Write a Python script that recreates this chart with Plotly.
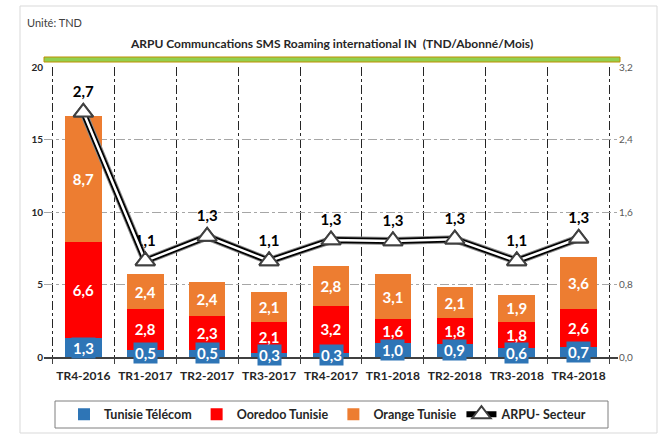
import plotly.graph_objects as go

categories = ["TR4-2016", "TR1-2017", "TR2-2017", "TR3-2017", "TR4-2017",
              "TR1-2018", "TR2-2018", "TR3-2018", "TR4-2018"]
tunisie_telecom = [1.3, 0.5, 0.5, 0.3, 0.3, 1.0, 0.9, 0.6, 0.7]
ooredoo = [6.6, 2.8, 2.3, 2.1, 3.2, 1.6, 1.8, 1.8, 2.6]
orange = [8.7, 2.4, 2.4, 2.1, 2.8, 3.1, 2.1, 1.9, 3.6]
arpu_secteur = [2.7, 1.06, 1.33, 1.06, 1.29, 1.28, 1.30, 1.06, 1.31]

BLUE = "#2E75B6"
RED = "#FF0000"
ORANGE = "#ED7D31"
FONT = "Lato"

fig = go.Figure()

fig.add_trace(go.Bar(x=categories, y=tunisie_telecom, name="Tunisie Télécom",
                     marker=dict(color=BLUE, line=dict(width=0)), textposition="none"))
fig.add_trace(go.Bar(x=categories, y=ooredoo, name="Ooredoo Tunisie",
                     marker=dict(color=RED, line=dict(width=0)),
                     texttemplate="%{y:.1f}", textposition="inside", insidetextanchor="middle",
                     textfont=dict(color="white", size=15, family=FONT, weight="bold"),
                     constraintext="none"))
fig.add_trace(go.Bar(x=categories, y=orange, name="Orange Tunisie",
                     marker=dict(color=ORANGE, line=dict(width=0)),
                     texttemplate="%{y:.1f}", textposition="inside", insidetextanchor="middle",
                     textfont=dict(color="white", size=15, family=FONT, weight="bold"),
                     constraintext="none"))

marker_style = dict(symbol="triangle-up", size=17, color="white",
                    line=dict(color="#404040", width=2))

# double line effect for ARPU
fig.add_trace(go.Scatter(x=categories, y=arpu_secteur, yaxis="y2", mode="lines",
                         line=dict(color="#8C8C8C", width=8), showlegend=False, hoverinfo="skip"))
fig.add_trace(go.Scatter(x=categories, y=arpu_secteur, yaxis="y2", mode="lines+markers+text",
                         name="ARPU- Secteur",
                         line=dict(color="black", width=6),
                         marker=marker_style,
                         texttemplate="%{y:.1f}", textposition="top center",
                         textfont=dict(color="black", size=15, family=FONT, weight="bold")))
fig.add_trace(go.Scatter(x=categories, y=arpu_secteur, yaxis="y2", mode="lines",
                         line=dict(color="white", width=2.5), showlegend=False, hoverinfo="skip"))
fig.add_trace(go.Scatter(x=categories, y=arpu_secteur, yaxis="y2", mode="markers",
                         marker=marker_style, showlegend=False, hoverinfo="skip"))

# blue labels with filled boxes
for c, v in zip(categories, tunisie_telecom):
    fig.add_annotation(x=c, y=v / 2, xref="x", yref="y",
                       text=f"{v:.1f}".replace(".", ","), showarrow=False,
                       bgcolor=BLUE, borderpad=1,
                       font=dict(color="white", size=15, family=FONT, weight="bold"))

W, H = 660, 434
L, R, T, B = 44, 42, 67, 77
pw, ph = W - L - R, H - T - B

def px(x):
    return (x - L) / pw

def py(y):
    return (H - B - y) / ph

shapes = [
    dict(type="rect", xref="paper", yref="paper", x0=px(20), x1=px(657), y0=py(433), y1=py(6),
         line=dict(color="#D9D9D9", width=1), fillcolor="rgba(0,0,0,0)", layer="below"),
    dict(type="rect", xref="paper", yref="paper", x0=px(44), x1=px(620), y0=py(62), y1=py(57),
         line=dict(color="#BF9000", width=1), fillcolor="#92D050"),
    dict(type="rect", xref="paper", yref="paper", x0=px(55), x1=px(608), y0=py(428), y1=py(401),
         line=dict(color="#7F7F7F", width=1), fillcolor="rgba(0,0,0,0)"),
]

fig.add_annotation(x=px(25), y=py(22), xref="paper", yref="paper", xanchor="left", yanchor="middle",
                   text="Unité: TND", showarrow=False,
                   font=dict(size=11, color="#404040", family=FONT))
fig.add_annotation(x=px(331), y=py(43), xref="paper", yref="paper", xanchor="center", yanchor="middle",
                   text="ARPU Communcations SMS Roaming international IN  (TND/Abonné/Mois)",
                   showarrow=False,
                   font=dict(size=12, color="#262626", family=FONT, weight="bold"))

fig.update_layout(
    width=W, height=H,
    margin=dict(l=L, r=R, t=T, b=B, autoexpand=False),
    barmode="stack", bargap=0.41,
    paper_bgcolor="white", plot_bgcolor="white",
    separators=",.",
    font=dict(family=FONT, color="#262626"),
    showlegend=True,
    legend=dict(orientation="h", x=px(64), xanchor="left", y=py(414.5), yanchor="middle",
                font=dict(size=12.5, family=FONT, color="#262626", weight="bold"),
                bgcolor="rgba(0,0,0,0)", borderwidth=0, traceorder="normal",
                itemwidth=30),
    shapes=shapes,
    xaxis=dict(showline=True, linecolor="#404040", linewidth=1.5, tickangle=0, automargin=False,
               ticks="outside", ticklen=5, tickcolor="#404040", tickson="boundaries",
               ticklabelstandoff=7,
               showgrid=True, gridcolor="#262626", griddash="dashdot", gridwidth=1,
               tickfont=dict(size=12, family=FONT, color="#262626", weight="bold")),
    yaxis=dict(range=[0, 20], dtick=5, showgrid=True, gridcolor="#A6A6A6", griddash="dashdot",
               zeroline=False, showline=False, ticks="", automargin=False,
               tickfont=dict(size=10, family=FONT, color="#262626", weight="bold")),
    yaxis2=dict(range=[0, 3.2], dtick=0.8, tickformat=".1f", overlaying="y", side="right",
                showgrid=False, zeroline=False, showline=False, ticks="", automargin=False,
                tickfont=dict(size=10, family=FONT, color="#595959")),
)

fig.write_html("out.html", config={"displayModeBar": False},
               post_script="document.body.style.margin='0';")
